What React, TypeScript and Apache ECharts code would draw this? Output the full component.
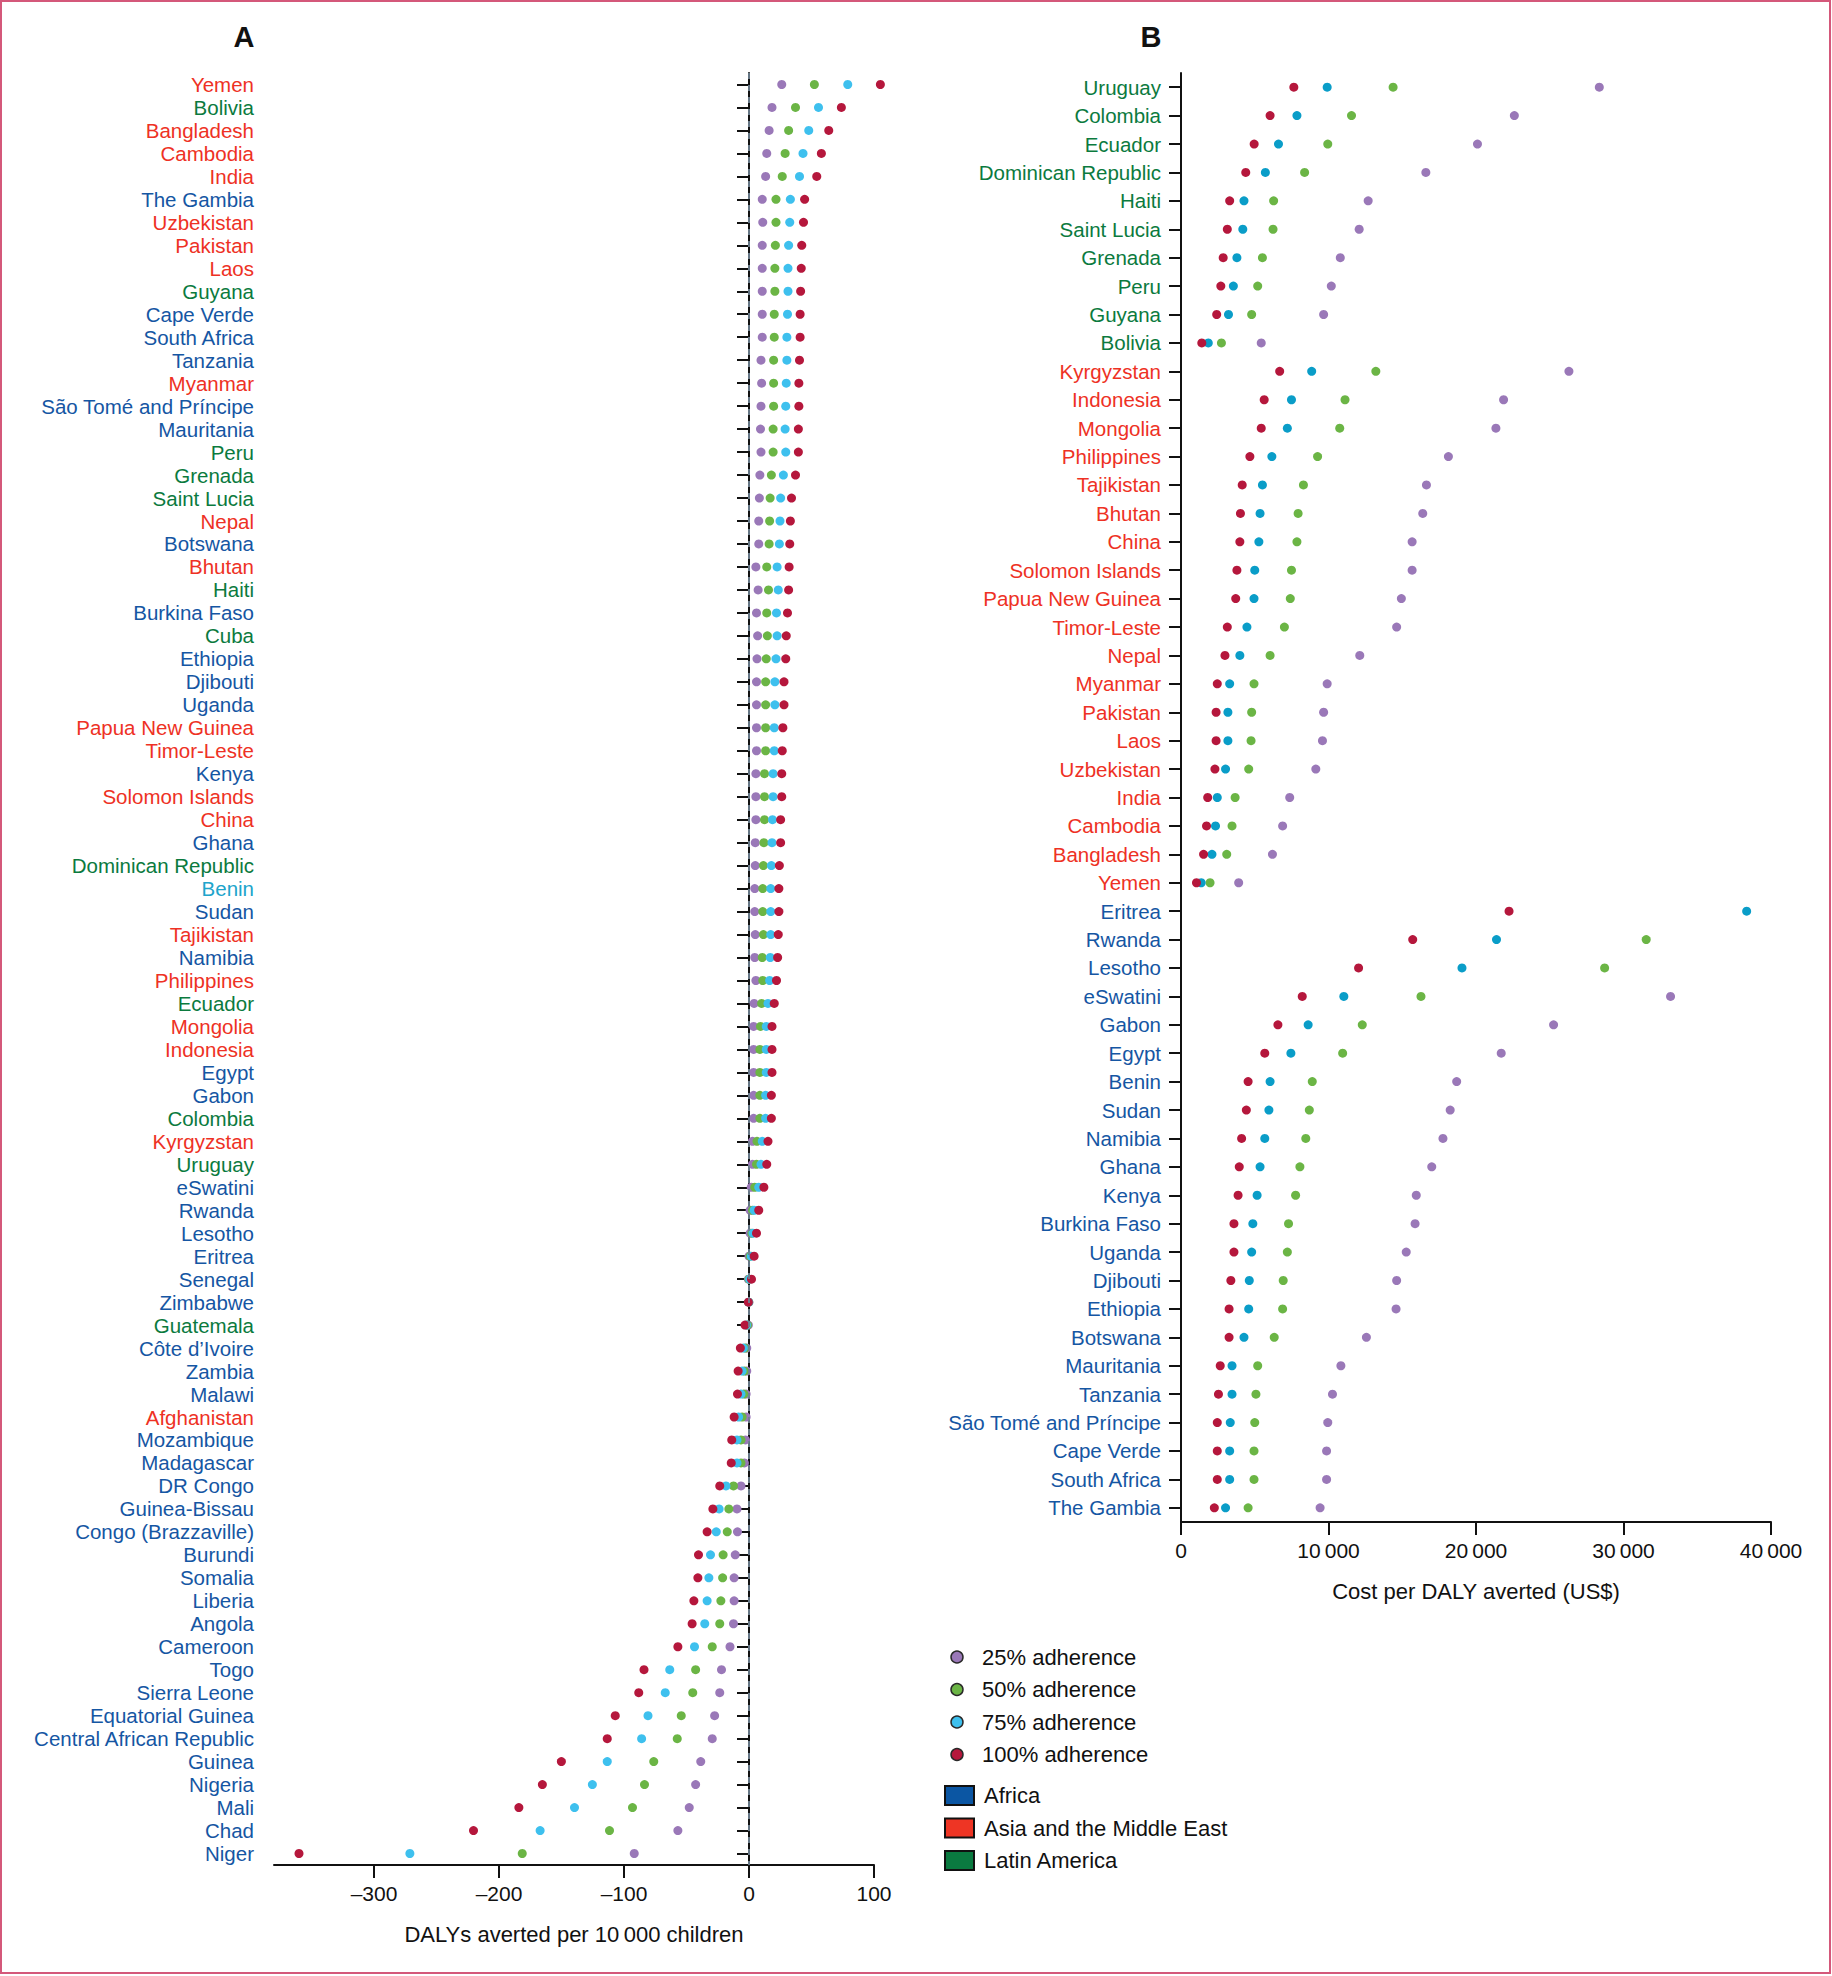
import React, { useEffect, useRef } from "react";
import * as echarts from "echarts";

// ---------- Panel A: DALYs averted per 10 000 children ----------
const countriesA = [
  "Yemen", "Bolivia", "Bangladesh", "Cambodia", "India", "The Gambia",
  "Uzbekistan", "Pakistan", "Laos", "Guyana", "Cape Verde", "South Africa",
  "Tanzania", "Myanmar", "São Tomé and Príncipe", "Mauritania", "Peru", "Grenada",
  "Saint Lucia", "Nepal", "Botswana", "Bhutan", "Haiti", "Burkina Faso",
  "Cuba", "Ethiopia", "Djibouti", "Uganda", "Papua New Guinea", "Timor-Leste",
  "Kenya", "Solomon Islands", "China", "Ghana", "Dominican Republic", "Benin",
  "Sudan", "Tajikistan", "Namibia", "Philippines", "Ecuador", "Mongolia",
  "Indonesia", "Egypt", "Gabon", "Colombia", "Kyrgyzstan", "Uruguay",
  "eSwatini", "Rwanda", "Lesotho", "Eritrea", "Senegal", "Zimbabwe",
  "Guatemala", "Côte d’Ivoire", "Zambia", "Malawi", "Afghanistan", "Mozambique",
  "Madagascar", "DR Congo", "Guinea-Bissau", "Congo (Brazzaville)", "Burundi", "Somalia",
  "Liberia", "Angola", "Cameroon", "Togo", "Sierra Leone", "Equatorial Guinea",
  "Central African Republic", "Guinea", "Nigeria", "Mali", "Chad", "Niger",
];
const regionsA = [
  "AS", "LA", "AS", "AS", "AS", "AF",
  "AS", "AS", "AS", "LA", "AF", "AF",
  "AF", "AS", "AF", "AF", "LA", "LA",
  "LA", "AS", "AF", "AS", "LA", "AF",
  "LA", "AF", "AF", "AF", "AS", "AS",
  "AF", "AS", "AS", "AF", "LA", "AF2",
  "AF", "AS", "AF", "AS", "LA", "AS",
  "AS", "AF", "AF", "LA", "AS", "LA",
  "AF", "AF", "AF", "AF", "AF", "AF",
  "LA", "AF", "AF", "AF", "AS", "AF",
  "AF", "AF", "AF", "AF", "AF", "AF",
  "AF", "AF", "AF", "AF", "AF", "AF",
  "AF", "AF", "AF", "AF", "AF", "AF",
];
const a25 = [
  26.2, 18.4, 16.1, 14.2, 13.3, 10.6,
  11.0, 10.6, 10.6, 10.6, 10.6, 10.6,
  9.6, 10.1, 9.6, 9.2, 9.6, 8.7,
  8.3, 7.8, 7.8, 5.5, 7.3, 6.0,
  6.9, 6.4, 6.0, 6.0, 6.0, 6.0,
  5.5, 5.5, 5.5, 5.0, 5.0, 4.6,
  4.6, 5.0, 4.6, 5.5, 4.1, 3.7,
  3.7, 3.7, 3.7, 3.7, 2.8, 2.8,
  1.8, 0.9, 0.9, 0, -0.5, -0.1,
  -0.5, -1.8, -1.8, -2.3, -2.3, -2.8,
  -3.7, -6.4, -9.6, -9.2, -11.0, -11.9,
  -11.9, -12.4, -15.2, -22.0, -23.4, -27.5,
  -29.4, -38.6, -42.7, -47.8, -56.9, -91.8,
];
const a50 = [
  52.3, 37.2, 31.7, 28.9, 26.6, 21.6,
  21.6, 21.1, 20.7, 20.7, 20.2, 20.2,
  19.7, 19.7, 19.7, 19.3, 19.3, 17.9,
  16.9, 16.5, 16.1, 14.2, 15.6, 14.2,
  14.7, 13.8, 13.3, 13.3, 13.3, 13.3,
  12.4, 12.4, 12.4, 11.9, 11.5, 11.0,
  11.0, 11.5, 10.6, 11.0, 10.1, 9.2,
  8.7, 8.7, 8.7, 8.7, 6.4, 6.0,
  4.6, 2.8, 2.3, 0.9, 0, -0.2,
  -1.2, -3.0, -3.7, -4.1, -5.5, -6.4,
  -6.4, -12.4, -16.1, -17.4, -20.7, -21.1,
  -22.5, -23.4, -29.4, -42.7, -45.0, -54.2,
  -57.4, -76.2, -83.6, -93.2, -111.6, -181.4,
];
const a75 = [
  79.0, 55.6, 47.8, 43.2, 40.4, 33.1,
  32.6, 31.7, 31.2, 31.2, 30.8, 30.3,
  30.3, 29.8, 29.4, 28.9, 29.4, 27.5,
  25.3, 24.8, 24.3, 22.5, 23.4, 22.0,
  22.5, 21.6, 20.7, 20.7, 20.2, 20.2,
  19.3, 19.3, 18.8, 18.4, 17.9, 17.4,
  17.4, 17.4, 17.0, 16.5, 15.2, 13.8,
  13.8, 13.8, 13.3, 13.3, 10.6, 9.6,
  7.8, 4.1, 3.2, 1.8, 0.5, -0.3,
  -2.0, -4.5, -5.5, -6.4, -8.3, -9.6,
  -9.6, -18.4, -23.9, -26.2, -30.8, -32.1,
  -33.5, -35.4, -43.6, -63.4, -67.0, -80.8,
  -85.9, -113.4, -125.3, -139.6, -167.1, -271.3,
];
const a100 = [
  105.1, 73.9, 63.8, 57.9, 54.2, 44.5,
  43.6, 42.2, 41.8, 41.3, 40.9, 40.9,
  40.4, 39.9, 39.9, 39.5, 39.5, 37.2,
  34.0, 33.1, 32.6, 32.1, 31.7, 30.8,
  29.8, 29.4, 28.0, 28.0, 27.1, 26.6,
  26.2, 26.2, 25.3, 25.3, 24.3, 23.9,
  23.9, 23.4, 22.9, 22.0, 20.2, 18.4,
  18.4, 18.4, 17.9, 17.9, 15.2, 14.2,
  11.9, 7.8, 6.0, 4.1, 2.0, -0.5,
  -3.2, -6.9, -8.7, -9.2, -11.9, -13.8,
  -14.2, -23.4, -28.9, -33.5, -40.4, -40.9,
  -44.1, -45.5, -56.9, -84.0, -88.2, -107.0,
  -113.4, -150.1, -165.3, -184.1, -220.4, -360.0,
];
const ticksA = [-300, -200, -100, 0, 100];

// ---------- Panel B: Cost per DALY averted (US$) ----------
const countriesB = [
  "Uruguay", "Colombia", "Ecuador", "Dominican Republic", "Haiti", "Saint Lucia",
  "Grenada", "Peru", "Guyana", "Bolivia", "Kyrgyzstan", "Indonesia",
  "Mongolia", "Philippines", "Tajikistan", "Bhutan", "China", "Solomon Islands",
  "Papua New Guinea", "Timor-Leste", "Nepal", "Myanmar", "Pakistan", "Laos",
  "Uzbekistan", "India", "Cambodia", "Bangladesh", "Yemen", "Eritrea",
  "Rwanda", "Lesotho", "eSwatini", "Gabon", "Egypt", "Benin",
  "Sudan", "Namibia", "Ghana", "Kenya", "Burkina Faso", "Uganda",
  "Djibouti", "Ethiopia", "Botswana", "Mauritania", "Tanzania", "São Tomé and Príncipe",
  "Cape Verde", "South Africa", "The Gambia",
];
const regionsB = [
  "LA", "LA", "LA", "LA", "LA", "LA",
  "LA", "LA", "LA", "LA", "AS", "AS",
  "AS", "AS", "AS", "AS", "AS", "AS",
  "AS", "AS", "AS", "AS", "AS", "AS",
  "AS", "AS", "AS", "AS", "AS", "AF",
  "AF", "AF", "AF", "AF", "AF", "AF",
  "AF", "AF", "AF", "AF", "AF", "AF",
  "AF", "AF", "AF", "AF", "AF", "AF",
  "AF", "AF", "AF",
];
const b25 = [
  28360, 22600, 20100, 16600, 12690, 12080,
  10800, 10190, 9670, 5440, 26300, 21870,
  21350, 18130, 16640, 16390, 15670, 15670,
  14940, 14620, 12120, 9910, 9670, 9590,
  9140, 7370, 6890, 6200, 3910, null,
  null, null, 33190, 25260, 21710, 18690,
  18250, 17760, 17000, 15950, 15870, 15270,
  14620, 14580, 12570, 10840, 10270, 9950,
  9870, 9870, 9430,
];
const b50 = [
  14380, 11560, 9950, 8380, 6280, 6240,
  5520, 5200, 4790, 2740, 13210, 11120,
  10760, 9260, 8300, 7940, 7860, 7490,
  7410, 7010, 6040, 4950, 4790, 4750,
  4590, 3670, 3460, 3100, 1970, null,
  31540, 28720, 16270, 12290, 10960, 8900,
  8700, 8460, 8060, 7770, 7290, 7210,
  6930, 6890, 6320, 5200, 5080, 5000,
  4950, 4950, 4550,
];
const b75 = [
  9910, 7860, 6610, 5720, 4270, 4190,
  3790, 3550, 3220, 1850, 8860, 7490,
  7210, 6160, 5520, 5360, 5280, 5000,
  4950, 4470, 3990, 3300, 3180, 3180,
  3020, 2460, 2340, 2100, 1370, 38350,
  21390, 19050, 11040, 8620, 7450, 6040,
  5960, 5680, 5360, 5160, 4870, 4790,
  4630, 4590, 4270, 3460, 3460, 3340,
  3300, 3300, 3020,
];
const b100 = [
  7650, 6040, 4960, 4390, 3300, 3140,
  2860, 2700, 2420, 1410, 6690, 5640,
  5440, 4670, 4150, 4030, 3990, 3790,
  3710, 3140, 2980, 2460, 2380, 2380,
  2300, 1810, 1730, 1530, 1050, 22240,
  15710, 12040, 8220, 6570, 5680, 4550,
  4430, 4110, 3950, 3870, 3590, 3590,
  3380, 3260, 3260, 2660, 2540, 2460,
  2460, 2460, 2260,
];

const adherenceNames = ["25% adherence", "50% adherence", "75% adherence", "100% adherence"];
const regionNames = ["Africa", "Asia and the Middle East", "Latin America"];

// ---------- styles ----------
const FONT = "'Liberation Sans', Arial, sans-serif";
const C25 = "#9a78b8";
const C50 = "#6bb545";
const C75A = "#3ec0ee";
const C75B = "#0a9dc8";
const C100 = "#b5173c";
const REGION_TEXT: Record<string, string> = {
  AF: "#1556a3",
  AF2: "#20a4cb",
  AS: "#ee3124",
  LA: "#0b7a3e",
};
const REGION_BOX = ["#0b56a3", "#ee3524", "#0a7a40"];

const thin = "\u2009";
const fmtA = (v: number) => (v < 0 ? "\u2013" + Math.abs(v) : String(v));
const fmtB = (v: number) => {
  if (v === 0) return "0";
  const s = String(v);
  return s.slice(0, s.length - 3) + thin + s.slice(s.length - 3);
};

function pts(vals: (number | null)[], cats: string[]) {
  const out: [number, string][] = [];
  vals.forEach((v, i) => {
    if (v !== null && v !== undefined) out.push([v, cats[i]]);
  });
  return out;
}

export default function App() {
  const ref = useRef<HTMLDivElement>(null);

  useEffect(() => {
    document.body.style.margin = "0";
    if (!ref.current) return;
    const chart = echarts.init(ref.current, undefined, { renderer: "svg" });

    const axisLineStyle = { color: "#111", width: 2 };

    const yAxisCommon = (cats: string[], regions: string[]) => {
      const colorOf: Record<string, string> = {};
      cats.forEach((c, i) => (colorOf[c] = REGION_TEXT[regions[i]]));
      return {
        type: "category" as const,
        data: cats,
        inverse: true,
        axisLine: { show: true, lineStyle: axisLineStyle },
        axisTick: { show: true, interval: 0, alignWithLabel: true, length: 12, lineStyle: axisLineStyle },
        axisLabel: {
          interval: 0,
          margin: 20,
          fontSize: 20.5,
          fontFamily: FONT,
          color: (v: string) => colorOf[v] || "#111",
        },
        splitLine: { show: false },
      };
    };

    const legendGraphics: any[] = [];
    const legendColors = [C25, C50, C75A, C100];
    const legendY = [1657, 1689.5, 1722, 1754.5];
    adherenceNames.forEach((n, i) => {
      legendGraphics.push({
        type: "circle",
        shape: { cx: 957, cy: legendY[i], r: 6 },
        style: { fill: legendColors[i], stroke: "#2a2a2a", lineWidth: 1.5 },
      });
      legendGraphics.push({
        type: "text",
        x: 982,
        y: legendY[i],
        style: { text: n, fontSize: 22, fontFamily: FONT, fill: "#111", align: "left", verticalAlign: "middle" },
      });
    });
    const regY = [1795.5, 1828, 1860.5];
    regionNames.forEach((n, i) => {
      legendGraphics.push({
        type: "rect",
        shape: { x: 945, y: regY[i] - 9.5, width: 29, height: 19 },
        style: { fill: REGION_BOX[i], stroke: "#111", lineWidth: 2 },
      });
      legendGraphics.push({
        type: "text",
        x: 984,
        y: regY[i],
        style: { text: n, fontSize: 22, fontFamily: FONT, fill: "#111", align: "left", verticalAlign: "middle" },
      });
    });

    const scatter = (name: string, xi: number, data: any[], color: string, extra: any = {}) => ({
      name,
      type: "scatter",
      xAxisIndex: xi,
      yAxisIndex: xi,
      data,
      symbol: "circle",
      symbolSize: 9,
      clip: false,
      itemStyle: { color, opacity: 1 },
      emphasis: { disabled: true },
      ...extra,
    });

    chart.setOption({
      animation: false,
      backgroundColor: "#ffffff",
      textStyle: { fontFamily: FONT },
      grid: [
        { left: 274, top: 73, width: 600, height: 1792, containLabel: false },
        { left: 1181, top: 73, width: 590, height: 1449, containLabel: false },
      ],
      xAxis: [
        {
          type: "value",
          gridIndex: 0,
          min: -380,
          max: 100,
          axisLine: { show: true, onZero: false, lineStyle: axisLineStyle },
          axisTick: { show: true, length: 13, customValues: ticksA, lineStyle: axisLineStyle },
          axisLabel: { customValues: ticksA, formatter: fmtA, fontSize: 21, fontFamily: FONT, color: "#111", margin: 18 },
          splitLine: { show: false },
          name: "DALYs averted per 10" + thin + "000 children",
          nameLocation: "middle",
          nameGap: 58,
          nameTextStyle: { fontSize: 22, fontFamily: FONT, color: "#111" },
        },
        {
          type: "value",
          gridIndex: 1,
          min: 0,
          max: 40000,
          interval: 10000,
          axisLine: { show: true, onZero: false, lineStyle: axisLineStyle },
          axisTick: { show: true, length: 13, lineStyle: axisLineStyle },
          axisLabel: { formatter: fmtB, fontSize: 21, fontFamily: FONT, color: "#111", margin: 18 },
          splitLine: { show: false },
          name: "Cost per DALY averted (US$)",
          nameLocation: "middle",
          nameGap: 58,
          nameTextStyle: { fontSize: 22, fontFamily: FONT, color: "#111" },
        },
      ],
      yAxis: [
        { ...yAxisCommon(countriesA, regionsA), gridIndex: 0 },
        { ...yAxisCommon(countriesB, regionsB), gridIndex: 1 },
      ],
      series: [
        scatter(adherenceNames[0], 0, pts(a25, countriesA), C25, {
          markLine: {
            silent: true,
            symbol: ["none", "none"],
            label: { show: false },
            lineStyle: { type: [6, 6], color: "#6f8292", width: 1.8 },
            data: [{ xAxis: 0 }],
          },
        }),
        scatter(adherenceNames[1], 0, pts(a50, countriesA), C50),
        scatter(adherenceNames[2], 0, pts(a75, countriesA), C75A),
        scatter(adherenceNames[3], 0, pts(a100, countriesA), C100),
        scatter(adherenceNames[0], 1, pts(b25, countriesB), C25),
        scatter(adherenceNames[1], 1, pts(b50, countriesB), C50),
        scatter(adherenceNames[2], 1, pts(b75, countriesB), C75B),
        scatter(adherenceNames[3], 1, pts(b100, countriesB), C100),
      ],
      graphic: [
        {
          type: "rect",
          shape: { x: 1, y: 1, width: 1829, height: 1972 },
          style: { fill: "none", stroke: "#d4587a", lineWidth: 2 },
          silent: true,
        },
        {
          type: "text",
          x: 244,
          y: 37,
          style: { text: "A", fontSize: 29, fontWeight: "bold", fontFamily: FONT, fill: "#111", align: "center", verticalAlign: "middle" },
        },
        {
          type: "text",
          x: 1151,
          y: 37,
          style: { text: "B", fontSize: 29, fontWeight: "bold", fontFamily: FONT, fill: "#111", align: "center", verticalAlign: "middle" },
        },
        ...legendGraphics,
      ],
    });

    return () => chart.dispose();
  }, []);

  return <div ref={ref} style={{ width: 1832, height: 1976 }} />;
}
